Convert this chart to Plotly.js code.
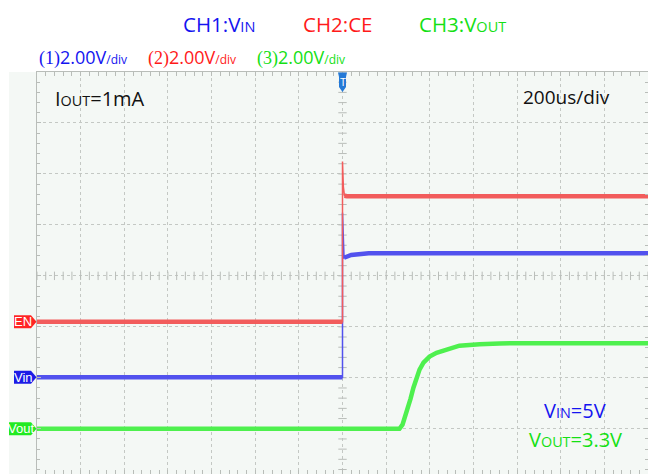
<!DOCTYPE html>
<html><head><meta charset="utf-8">
<script src="https://cdn.plot.ly/plotly-3.0.1.min.js"></script>
<style>html,body{margin:0;padding:0;background:#fff}</style>
</head><body><div id="chart" style="width:648px;height:474px"></div>
<script>
// ---- data (time in microseconds, 200 us/div, trigger at t = 0; values in volts) ----
const ch1Time = [-1400, 0, 0, 3, 7, 14, 40, 120, 1400];
const ch1Volt = [0, 0, 6.46, 5.4, 4.69, 4.72, 4.8, 4.87, 4.87];
const ch2Time = [-1400, 0, 0, 4, 9, 20, 1400];
const ch2Volt = [0, 0, 6.29, 5.3, 4.95, 4.93, 4.93];
const ch3Time = [-1400, 261, 275, 293, 312, 325, 339, 353, 371, 399, 431, 477, 536, 628, 719, 1400];
const ch3Volt = [0, 0, 0.16, 0.63, 1.18, 1.61, 2.0, 2.32, 2.59, 2.83, 2.98, 3.1, 3.26, 3.32, 3.35, 3.36];
const channelTags = ['Vin', 'EN', 'Vout'];
const channelScale = [2.0, 2.0, 2.0];          // V/div
const channelOffset = [-1.99, -0.903, -3.0];   // divisions from centre
const timePerDiv = 200;                        // us/div

// ---- geometry helpers ----
const W = 648, H = 474, L = 37, T = 72;
const PW = W - L, PH = H - T;
const divPx = PH / 7.888;
const yDivRange = [-3.888, 4];
const px = x => (x - L) / PW;        // pixel x -> paper
const py = y => (H - y) / PH;        // pixel y -> paper
const usPerPx = 14 * timePerDiv / PW;

const FONT = 'Open Sans, Noto Sans, sans-serif';
const C = {ch1: '#5252ee', ch2: '#f25c5c', ch3: '#4ef04e', t1: '#1414f0', t2: '#ff1a1a', t3: '#14e014'};

function chRange(i) {
  return [(yDivRange[0] - channelOffset[i]) * channelScale[i], (yDivRange[1] - channelOffset[i]) * channelScale[i]];
}
function thickPart(t, v, tSettle) {
  const tx = [], vy = [];
  let risen = false;
  for (let i = 0; i < t.length; i++) {
    if (!risen && t[i] <= 0 && (i === 0 || v[i] === v[0])) { tx.push(t[i]); vy.push(v[i]); }
    else { if (!risen) { tx.push(null); vy.push(null); risen = true; }
      if (t[i] >= tSettle) { tx.push(t[i]); vy.push(v[i]); } }
  }
  return [tx, vy];
}

const traces = [];
// centre-cross tick marks (graticule decoration)
const cx = [], cy = [];
for (let k = -70; k <= 70; k++) { cx.push(k * timePerDiv / 5); cy.push(0); }
traces.push({x: cx, y: cy, xaxis: 'x', yaxis: 'y', mode: 'markers', hoverinfo: 'skip',
  marker: {symbol: 'line-ns', size: 6, line: {width: 1, color: '#b9bdb9'}}});
const vx = [], vy = [];
for (let k = -19; k <= 20; k++) { vx.push(0); vy.push(k / 5); }
traces.push({x: vx, y: vy, xaxis: 'x', yaxis: 'y', mode: 'markers', hoverinfo: 'skip',
  marker: {symbol: 'line-ew', size: 6, line: {width: 1, color: '#b9bdb9'}}});

// CH1 (Vin)
const t1 = thickPart(ch1Time, ch1Volt, 7);
traces.push({x: ch1Time, y: ch1Volt, yaxis: 'y2', mode: 'lines', line: {color: C.ch1, width: 1.5}, hoverinfo: 'skip'});
traces.push({x: t1[0], y: t1[1], yaxis: 'y2', mode: 'lines', line: {color: C.ch1, width: 4.5}, connectgaps: false, hoverinfo: 'skip'});
// CH3 (Vout)
traces.push({x: ch3Time, y: ch3Volt, yaxis: 'y4', mode: 'lines', line: {color: C.ch3, width: 4.5}, hoverinfo: 'skip'});
// CH2 (CE / EN)
const t2 = thickPart(ch2Time, ch2Volt, 9);
traces.push({x: ch2Time, y: ch2Volt, yaxis: 'y3', mode: 'lines', line: {color: C.ch2, width: 1.5}, hoverinfo: 'skip'});
traces.push({x: t2[0], y: t2[1], yaxis: 'y3', mode: 'lines', line: {color: C.ch2, width: 4.5}, connectgaps: false, hoverinfo: 'skip'});

const gridAxis = {
  showgrid: true, gridcolor: '#c4c8c4', griddash: 'dot', gridwidth: 1,
  zeroline: false, showticklabels: false, ticks: 'inside', ticklen: 4, tickcolor: '#b9bdb9',
  showline: true, linecolor: '#b9bdb9', linewidth: 1, mirror: 'allticks', fixedrange: true
};

const shapes = [
  {type: 'rect', xref: 'paper', yref: 'paper', x0: px(9), x1: px(37), y0: 0, y1: 1,
   fillcolor: '#f4f8f5', line: {width: 0}, layer: 'below'},
  // trigger marker
  {type: 'path', xref: 'x', yref: 'paper',
   path: `M ${-4.5*usPerPx},${py(72.5)} L ${4.5*usPerPx},${py(72.5)} L ${3.5*usPerPx},${py(77)} L ${3.5*usPerPx},${py(87)} L 0,${py(92)} L ${-3.5*usPerPx},${py(87)} L ${-3.5*usPerPx},${py(77)} Z`,
   fillcolor: '#2479d6', line: {width: 0}}
];
const annotations = [];
// channel ground markers
const tagColor = ['#1c1ce6', '#ff2424', '#22ea22'];
const tagLeft = [14, 14, 9];
channelTags.forEach((tag, i) => {
  const y = channelOffset[i], h = 6.5 / divPx;
  const a = px(tagLeft[i]), b = px(31), c = px(36.5);
  shapes.push({type: 'path', xref: 'paper', yref: 'y',
    path: `M ${a},${y + h} L ${b},${y + h} L ${c},${y} L ${b},${y - h} L ${a},${y - h} Z`,
    fillcolor: tagColor[i], line: {width: 0}});
  annotations.push({xref: 'paper', yref: 'y', x: px((tagLeft[i] + 31) / 2 + 0.5), y: y, text: tag,
    showarrow: false, xanchor: 'center', yanchor: 'middle',
    font: {family: 'Liberation Sans Narrow, Liberation Sans, sans-serif', size: 13, color: '#ffffff'}});
});
annotations.push({xref: 'x', yref: 'paper', x: 0, y: py(82.5), text: 'T', showarrow: false,
  font: {family: 'Liberation Sans, sans-serif', size: 10, color: '#ffffff'}, xanchor: 'center', yanchor: 'middle'});

const sc = s => `<span style="font-size:${s}px">`;
function addText(text, x, y, size, color, family) {
  annotations.push({xref: 'paper', yref: 'paper', x: px(x), y: py(y), text: text, showarrow: false,
    xanchor: 'left', yanchor: 'middle', borderpad: 0,
    font: {family: family || FONT, size: size, color: color}});
}
addText('CH1:V' + sc(14.5) + 'IN</span>', 182, 24, 20.5, C.t1);
addText('CH2:CE', 302, 24, 20.5, C.t2);
addText('CH3:V' + sc(14.5) + 'OUT</span>', 418, 24, 20.5, C.t3);
const serif = '<span style="font-family:Liberation Serif">';
addText(serif + '(1)</span>2.00V' + sc(12) + '/div</span>', 38, 57, 18, C.t1);
addText(serif + '(2)</span>2.00V' + sc(12) + '/div</span>', 147, 57, 18, C.t2);
addText(serif + '(3)</span>2.00V' + sc(12) + '/div</span>', 256, 57, 18, C.t3);
addText('I' + sc(14.4) + 'OUT</span>=1mA', 54, 99, 20, '#111111');
addText('200us/div', 522, 97, 19, '#111111');
addText('V' + sc(14.4) + 'IN</span>=5V', 543, 410, 20, C.t1);
addText('V' + sc(14.4) + 'OUT</span>=3.3V', 528, 439, 20, C.t3);

const layout = {
  width: W, height: H, margin: {l: L, r: 0, t: T, b: 0, pad: 0},
  paper_bgcolor: '#ffffff', plot_bgcolor: '#f4f8f5', showlegend: false, hovermode: false,
  xaxis: Object.assign({}, gridAxis, {range: [-7 * timePerDiv, 7 * timePerDiv], tick0: 0, dtick: timePerDiv,
    minor: {tick0: 0, dtick: timePerDiv / 5, ticks: 'inside', ticklen: 3, tickcolor: '#b9bdb9', showgrid: false}}),
  yaxis: Object.assign({}, gridAxis, {range: yDivRange, tick0: 0, dtick: 1,
    minor: {tick0: 0, dtick: 0.2, ticks: 'inside', ticklen: 3, tickcolor: '#b9bdb9', showgrid: false}}),
  yaxis2: {overlaying: 'y', range: chRange(0), visible: false, fixedrange: true},
  yaxis3: {overlaying: 'y', range: chRange(1), visible: false, fixedrange: true},
  yaxis4: {overlaying: 'y', range: chRange(2), visible: false, fixedrange: true},
  shapes: shapes, annotations: annotations
};
Plotly.newPlot('chart', traces, layout, {staticPlot: true, displayModeBar: false});
</script></body></html>
